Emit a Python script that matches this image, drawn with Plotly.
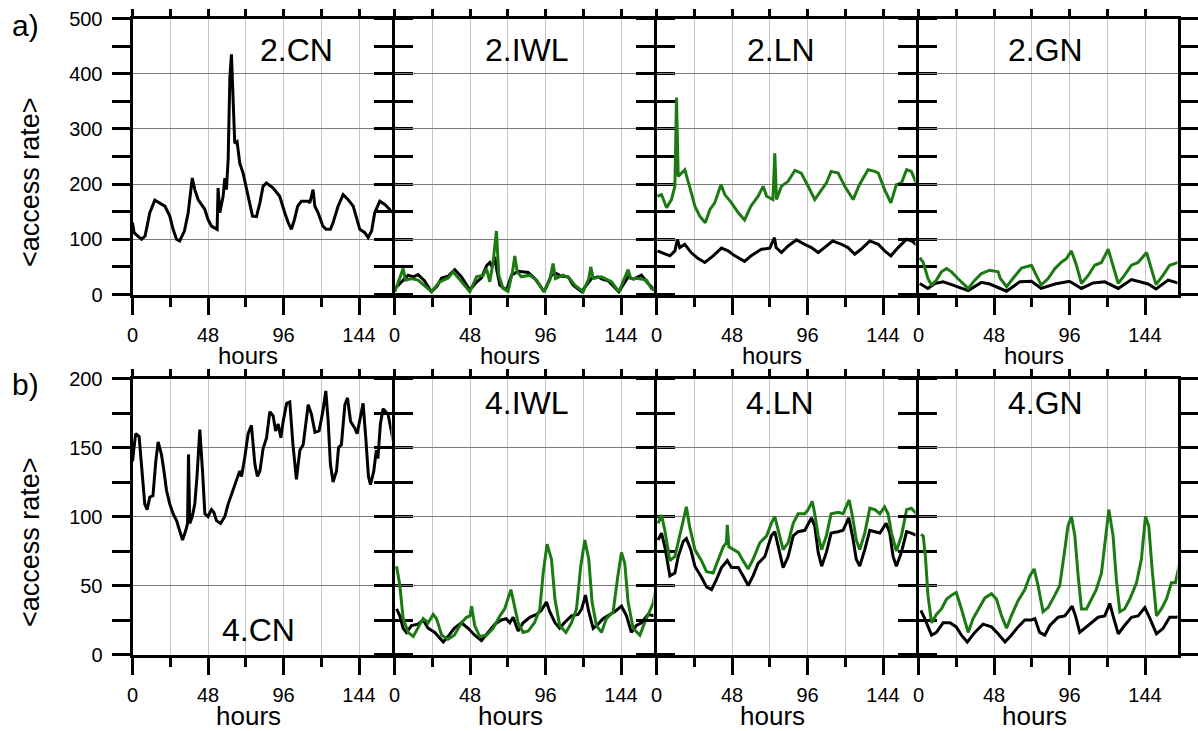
import plotly.graph_objects as go

# ---------------- data (hours, <access rate>) ----------------
# Row a) panel 2.CN
h_2CN_k = [0, 1, 2.5, 4, 5.7, 8, 11, 14.2, 17.4, 20.6, 23.7, 25.8, 28, 30, 33, 35.4, 38, 39.6, 41.7, 46, 48, 50.2,
           53.8, 54.4, 55.5, 57.6, 58.7, 59.7, 60.8, 61.9, 62.9, 64, 65, 66.5, 68.2, 70.3, 73.5, 76.3, 78.8, 81, 83,
           85.2, 89.4, 93.6, 96.8, 99, 101, 103, 105, 107.4, 111.7, 112.7, 114.8, 115.9, 118, 121, 123, 125.8, 127.5,
           130.7, 133.9, 137, 140.3, 142.4, 144.5, 147.7, 149.8, 152, 154, 157.2, 160.4, 163.6, 166.7]
v_2CN_k = [130, 112, 108, 104, 100, 106, 148, 171, 166, 160, 142, 118, 100, 97, 115, 148, 211, 190, 172, 154, 136, 124,
           118, 193, 148, 178, 211, 190, 244, 393, 435, 333, 274, 277, 238, 220, 178, 142, 141, 166, 196,
           202, 193, 178, 148, 130, 118, 136, 160, 169, 169, 166, 190, 160, 148, 124, 118, 118, 130,
           160, 181, 172, 160, 139, 118, 112, 103, 115, 148, 169, 163, 154, 145]

# Row a) panel 2.IWL
h_2IWL_k = [0, 4.4, 8.7, 12, 15, 19, 23.5, 27, 30, 34, 38.3, 42.6, 47.9, 52, 55.3, 58.5, 60.6, 62, 63.8, 65, 67, 71.2,
            74.4, 78.6, 85, 89.2, 95.1, 99.8, 103, 106.1, 110.4, 113.6, 118.9, 125.2, 129.4, 132, 135.8, 142.6, 148.5,
            152, 157, 161.2, 166.5]
v_2IWL_k = [10, 22, 35, 32, 36, 25, 5, 15, 30, 33, 45, 32, 8, 22, 30, 52, 58, 50, 68, 45, 17, 8,
            35, 42, 40, 29, 5, 35, 38, 33, 32, 17, 5, 29, 32, 28, 25, 5, 32,
            28, 35, 20, 5]
h_2IWL_g = [0.2, 3.4, 5.5, 7, 10.8, 15, 19.3, 23.5, 28.8, 34.1, 37.3, 41.5, 47.9, 52.1, 56.4, 58.5, 60.6, 62.7, 64.8,
            66.3, 69, 72.2, 75, 76.5, 78, 80.7, 86, 90.3, 95.1, 98.7, 100.8, 102.3, 107.2, 111.4, 114.6, 119.9, 123.5,
            124.8, 126.3, 131.6, 137.9, 142.6, 146.4, 148.5, 150.2, 154.9, 160.2, 163.3, 166.5]
v_2IWL_g = [5, 29, 47, 26, 29, 26, 16, 5, 23, 30, 41, 26, 5, 32, 35, 47, 23, 59, 115,
            35, 11, 6, 41, 70, 41, 32, 35, 26, 5, 26, 56, 29, 35, 29, 17, 5, 29,
            50, 29, 32, 23, 5, 29, 45, 29, 29, 26, 11, 4]

# Row a) panel 2.LN
h_2LN_k = [0.6, 3.2, 8.5, 11.7, 13.3, 14.8, 18, 22, 26.5, 30.7, 36, 41.3, 45.5, 49.8, 56, 60, 66.7, 72, 75, 76, 79.4,
           83.7, 89, 94, 98.5, 102.8, 107, 112, 117.6, 121.8, 126, 130, 135.6, 141, 145, 149, 153.6, 159, 162.3, 166]
v_2LN_k = [79, 76, 70, 79, 100, 85, 91, 76, 65, 58, 70, 84, 79, 70, 60, 70, 82, 84, 103, 85, 76,
           88, 99, 91, 85, 76, 85, 97, 91, 85, 73, 82, 97, 91, 79, 70, 85, 100, 97, 88]
h_2LN_g = [0.6, 3.2, 6.4, 9.5, 11.7, 12.7, 13.8, 15.9, 18, 21, 24.4, 27.5, 31, 34, 37, 41, 43.4, 47.7, 52, 56, 60,
           64.6, 67.8, 70, 74, 75.2, 76.3, 79.4, 83.7, 88, 92, 96.4, 100.6, 105, 108, 111, 115.5, 119.7, 125, 129,
           134.5, 138.8, 141, 145, 149, 152.5, 155.7, 159, 162, 166]
v_2LN_g = [178, 181, 157, 172, 196, 357, 214, 220, 226, 196, 160, 142, 130, 154, 166, 199, 181, 166, 148, 135, 160,
           178, 196, 178, 172, 256, 172, 196, 205, 225, 220, 196, 172, 190, 202, 223, 220, 196, 172, 199,
           226, 223, 220, 190, 166, 199, 202, 226, 223, 196]

# Row a) panel 2.GN
h_2GN_k = [0.8, 6, 10.4, 15.7, 21, 31.6, 40, 45.3, 56, 64.4, 71.8, 78, 86.7, 96, 103.6, 111, 118.4, 127, 135.4, 146,
           151, 158.7, 166]
v_2GN_k = [20, 11, 20, 23, 18, 7, 22, 19, 6, 23, 24, 11, 19, 24, 11, 21, 23, 11, 27, 19, 10, 26, 20]
h_2GN_g = [0.8, 3, 6, 8.3, 11.4, 14.6, 17.8, 21, 25, 31.6, 35.8, 40, 45.3, 50.6, 52, 56, 60, 65.5, 71.8, 74, 78, 82.4,
           86.7, 91, 94, 97.2, 100.4, 103.6, 108, 112, 116.3, 120.6, 123.7, 127, 131, 135.4, 139.6, 145, 148, 151,
           155.5, 159.7, 166]
v_2GN_g = [67, 58, 29, 17, 26, 41, 47, 41, 29, 11, 26, 38, 44, 41, 29, 14, 29, 48, 53, 41, 17, 29,
           47, 59, 65, 79, 53, 20, 35, 53, 58, 82, 53, 20, 35, 53, 58, 76, 47, 18,
           35, 53, 59]

# Row b) panel 4.CN
h_4CN_k = [0, 0.8, 2, 4.2, 5.7, 7.8, 9.3, 11, 13, 14.8, 16.3, 18.4, 20, 21.6, 23.7, 25.8, 28, 29.7, 31.8, 33.9, 35,
           35.6, 36.4, 38, 39.6, 41, 42.8, 44.5, 46, 48, 50.2, 51.7, 53.4, 56, 58.7, 60.8, 63.6, 66, 68.2, 69.3, 71.4,
           73.5, 75.6, 77.8, 79.4, 81, 83, 85.2, 87.3, 89.4, 91, 92.6, 94.3, 95.8, 98, 100, 102, 104.2, 106.4, 108.5,
           111.7, 113.8, 116, 118.6, 121, 122.9, 124.4, 125.8, 127.5, 129.7, 131, 132.8, 135, 136.7, 138.6, 141.3,
           142.8, 144.5, 146.6, 148.3, 150, 151.3, 153.4, 155, 156, 157.6, 159.3, 162.5, 165.7]
v_4CN_k = [140, 148, 160, 158, 138, 109, 105, 114, 115, 140, 154, 145, 133, 119, 109, 102, 97, 90, 83, 90, 95,
           145, 95, 100, 109, 129, 163, 133, 102, 100, 105, 103, 97, 95, 100, 109, 119, 126, 133, 129, 143,
           160, 166, 138, 129, 133, 149, 157, 176, 173, 162, 167, 157, 169, 182, 183, 152, 127, 148, 152,
           181, 174, 161, 162, 176, 191, 169, 138, 125, 133, 150, 152, 181, 186, 169, 164,
           160, 169, 182, 157, 129, 123, 133, 148, 142, 167, 178, 174, 155]

# Row b) panel 4.IWL
h_4IWL_k = [1.3, 3.4, 5.5, 7.6, 10.8, 15, 18.2, 21.4, 25.6, 31, 34, 38, 42.6, 46.8, 51, 55.3, 59.5, 63.8, 68, 71, 73.3,
            75.4, 78.6, 81.8, 86, 90.3, 93.4, 96.6, 98.7, 102, 105, 108, 112.5, 116.7, 119, 121.4, 123.5, 126.3,
            129.4, 132.6, 136.9, 140, 144.3, 147.5, 150.6, 153.8, 157, 161.2, 165.5]
v_4IWL_k = [33, 28, 19, 16, 21, 22, 25, 19, 16, 9, 13, 19, 23, 19, 14, 10, 16, 22, 25, 26, 23,
            27, 17, 23, 27, 29, 32, 38, 31, 23, 19, 23, 28, 29, 33, 43, 31, 19,
            22, 26, 29, 31, 35, 28, 16, 21, 23, 29, 28]
h_4IWL_g = [1.3, 3.4, 5.5, 8.7, 11.9, 15, 18.2, 21.4, 24.6, 26.7, 30, 34, 38, 42.6, 45.8, 48, 49, 51, 54.2, 58.5, 62.7,
            67, 70, 74, 76.5, 78.6, 81.8, 85, 89, 92.4, 94.5, 97, 99.8, 102, 105, 109, 112.5, 115.7, 118.4, 121,
            123.5, 125.6, 128.4, 131.6, 134.7, 139, 142, 144.3, 146.4, 148.5, 151.7, 156, 159, 162, 164.4, 166.5]
v_4IWL_g = [64, 50, 26, 16, 13, 19, 26, 23, 29, 26, 14, 11, 14, 23, 27, 28, 35, 21, 13, 14, 19,
            28, 33, 47, 35, 23, 16, 17, 23, 33, 59, 80, 69, 40, 21, 16, 23, 33, 64, 83,
            69, 38, 21, 16, 26, 31, 57, 74, 66, 38, 19, 14, 23, 31, 37, 50]

# Row b) panel 4.LN
h_4LN_k = [1, 3.2, 5.3, 8.5, 11.7, 13.8, 17, 19, 21.8, 24.4, 28.6, 31.8, 35, 38, 41.3, 45, 47.7, 52, 55, 58.3, 61.4,
           64.6, 68.9, 73, 75.2, 77.3, 80.5, 83.7, 86.9, 90, 94.3, 98.5, 100.6, 102.8, 105, 108, 111, 115.5, 118.6,
           122.2, 124.6, 127, 129.2, 132.4, 135.6, 138.8, 142, 146, 148.3, 150.4, 152.5, 155.7, 159, 162, 166]
v_4LN_k = [83, 88, 78, 57, 59, 71, 82, 84, 76, 64, 56, 49, 47, 54, 63, 68, 63, 63, 57, 50, 57,
           66, 71, 86, 89, 78, 63, 71, 86, 89, 90, 99, 93, 74, 64, 74, 88, 89, 90,
           99, 86, 69, 64, 76, 90, 89, 88, 95, 88, 71, 64, 74, 89, 88, 86]
h_4LN_g = [1, 3.2, 5.3, 8.5, 11.7, 14.8, 16.9, 19, 21, 24.4, 28.6, 31.8, 36, 39.2, 42.4, 44.5, 45, 46, 48.7, 52, 55,
           58.3, 61.4, 65.7, 70, 73, 75.2, 77.3, 80.5, 83.7, 86.9, 90, 94.3, 96.4, 99, 100.6, 102.8, 105, 108, 111,
           115.5, 118.6, 120.8, 122.5, 124.6, 127, 129.2, 132.4, 135.6, 138.8, 142, 145, 147.2, 149.4, 152.5, 155.7,
           159, 162, 166]
v_4LN_g = [95, 101, 90, 68, 71, 86, 97, 107, 93, 76, 68, 60, 59, 69, 78, 81, 94, 78, 76, 74, 68,
           62, 69, 81, 86, 95, 100, 90, 76, 81, 95, 102, 102, 105, 111, 102, 86, 76, 86, 102,
           103, 102, 107, 112, 100, 83, 76, 88, 106, 105, 102, 107, 102, 88, 75, 86,
           105, 106, 101]

# Row b) panel 4.GN
h_4GN_k = [1.5, 4, 8.3, 11.4, 15.7, 20, 24, 27.3, 31, 35.8, 41, 46.4, 50.6, 55, 59, 63.3, 67.6, 71.8, 74, 77, 80.3,
           83.5, 88.8, 93, 97.7, 99.8, 102.5, 105.7, 110, 114.2, 118.4, 121.6, 123.7, 127, 131, 135.4, 139.6, 143.9,
           146.4, 151.3, 155.5, 159.7, 164, 166.7]
v_4GN_k = [32, 26, 14, 16, 23, 23, 20, 14, 9, 16, 22, 20, 15, 9, 14, 20, 25, 25, 26, 16, 14,
           21, 27, 28, 35, 28, 16, 19, 23, 27, 28, 37, 28, 15, 21, 27, 28, 34,
           28, 15, 19, 27, 27, 28]
h_4GN_g = [1.5, 3, 4.4, 6, 8.3, 11.4, 14.6, 17.8, 21, 24, 27.3, 31.6, 34.7, 39, 42.2, 46.4, 49.6, 52.8, 56, 59, 63.3,
           67.6, 70.8, 73.5, 76, 79.2, 82.4, 86.7, 89.8, 93, 95, 97.2, 99.4, 101.5, 103.6, 106.8, 110, 113, 116.3,
           118.4, 121, 123.7, 125.8, 128, 131, 134.3, 138.6, 141.7, 144.3, 146.4, 148.5, 151.3, 154.4, 157.6, 160.8,
           163.3, 166.7]
v_4GN_g = [87, 86, 71, 43, 23, 29, 33, 40, 43, 45, 33, 16, 26, 35, 41, 44, 40, 28, 19, 28, 39,
           47, 57, 62, 50, 31, 34, 43, 50, 76, 93, 100, 86, 57, 33, 33, 40, 47, 59,
           78, 105, 86, 54, 31, 33, 40, 52, 69, 100, 93, 62, 28, 33, 40, 52,
           52, 70]

panel_titles = ["2.CN", "2.IWL", "2.LN", "2.GN", "4.CN", "4.IWL", "4.LN", "4.GN"]
panel_series = [
    [(h_2CN_k, v_2CN_k, "k")],
    [(h_2IWL_k, v_2IWL_k, "k"), (h_2IWL_g, v_2IWL_g, "g")],
    [(h_2LN_k, v_2LN_k, "k"), (h_2LN_g, v_2LN_g, "g")],
    [(h_2GN_k, v_2GN_k, "k"), (h_2GN_g, v_2GN_g, "g")],
    [(h_4CN_k, v_4CN_k, "k")],
    [(h_4IWL_k, v_4IWL_k, "k"), (h_4IWL_g, v_4IWL_g, "g")],
    [(h_4LN_k, v_4LN_k, "k"), (h_4LN_g, v_4LN_g, "g")],
    [(h_4GN_k, v_4GN_k, "k"), (h_4GN_g, v_4GN_g, "g")],
]
x_major = [0, 48, 96, 144]
x_minor = [24, 72, 120]
x_top = [0, 24, 48, 72, 96, 120, 144, 168]
row_ymax = [500, 200]
row_ymajor = [[0, 100, 200, 300, 400, 500], [0, 50, 100, 150, 200]]
row_yminor = [[50, 150, 250, 350, 450], [25, 75, 125, 175]]
row_tags = ["a)", "b)"]

# ---------------- layout geometry (pixels) ----------------
W, H = 1198, 731
col_px = [131, 393, 655, 917, 1179]
row_px = [(17, 296), (377, 656)]
INSET = 1.5
XMAX = (262 - 2 * INSET) / 1.573
FONT = "Liberation Sans, Arial, sans-serif"
COL = {"k": "#000000", "g": "#1c7a12"}


def px_x(p):
    return p / W


def px_y(p):
    return 1 - p / H


fig = go.Figure()
layout = dict(width=W, height=H, margin=dict(l=0, r=0, t=0, b=0, pad=0, autoexpand=False), showlegend=False,
              plot_bgcolor="white", paper_bgcolor="white", font=dict(family=FONT, color="black"))
annotations = []

for r in range(2):
    for c in range(4):
        i = r * 4 + c + 1
        xs = "" if i == 1 else str(i)
        for hx, vy, col in panel_series[i - 1]:
            fig.add_trace(go.Scatter(x=hx, y=vy, mode="lines", xaxis="x" + xs, yaxis="y" + xs,
                                     line=dict(color=COL[col], width=3), hoverinfo="skip"))
        fig.add_trace(go.Scatter(x=[], y=[], xaxis="x" + str(i + 8), yaxis="y" + xs, hoverinfo="skip"))
        dom_x = [px_x(col_px[c] + INSET), px_x(col_px[c + 1] - INSET)]
        top, bot = row_px[r]
        dom_y = [px_y(bot - INSET), px_y(top + INSET)]
        layout["xaxis" + xs] = dict(
            domain=dom_x, anchor="y" + xs, range=[0, XMAX], tickmode="array", tickvals=x_major,
            ticks="outside", ticklen=17, tickwidth=3, tickcolor="black", ticklabelstandoff=3,
            showline=True, linecolor="black", linewidth=3, mirror=False, zeroline=False,
            showgrid=True, gridcolor="#c4c4c4", gridwidth=1,
            tickfont=dict(family=FONT, size=20, color="black"),
            minor=dict(tickmode="array", tickvals=x_minor, ticks="outside", ticklen=9, tickwidth=3,
                       tickcolor="black", showgrid=True, gridcolor="#c4c4c4", gridwidth=1),
            fixedrange=True)
        layout["xaxis" + str(i + 8)] = dict(
            overlaying="x" + xs, anchor="y" + xs, side="top", range=[0, XMAX], tickmode="array",
            tickvals=x_top, ticks="outside", ticklen=7, tickwidth=3, tickcolor="black",
            showticklabels=False, showline=True, linecolor="black", linewidth=3, showgrid=False,
            zeroline=False, fixedrange=True)
        layout["yaxis" + xs] = dict(
            domain=dom_y, anchor="x" + xs, range=[0, row_ymax[r]], tickmode="array",
            tickvals=row_ymajor[r], showticklabels=(c == 0), ticks="outside", ticklen=18, tickwidth=3,
            tickcolor="black", ticklabelstandoff=5,
            showline=True, linecolor="black", linewidth=3, mirror="allticks", zeroline=False,
            showgrid=True, gridcolor="#7a7a7a", gridwidth=1,
            tickfont=dict(family=FONT, size=20, color="black"),
            minor=dict(tickmode="array", tickvals=row_yminor[r], ticks="outside", ticklen=9, tickwidth=3,
                       tickcolor="black", showgrid=False),
            fixedrange=True)
        hy = 355 if r == 0 else 716
        hs = 24 if r == 0 else 26
        annotations.append(dict(text="hours", x=px_x((col_px[c] + col_px[c + 1]) / 2 - 14), y=px_y(hy),
                                xref="paper", yref="paper", showarrow=False, xanchor="center", yanchor="middle",
                                font=dict(family=FONT, size=hs, color="black")))

title_pos = [(296, 50), (527, 50), (781, 50), (1045, 50), (258, 630), (527, 403), (780, 403), (1045, 403)]
for t, (tx, ty) in zip(panel_titles, title_pos):
    annotations.append(dict(text=t, x=px_x(tx), y=px_y(ty), xref="paper", yref="paper", showarrow=False,
                            xanchor="center", yanchor="middle", font=dict(family=FONT, size=32, color="black")))

for r, (tag, ycen, tagy) in enumerate(zip(row_tags, [182, 542], [26, 384])):
    annotations.append(dict(text="&lt;access rate&gt;", x=px_x(30), y=px_y(ycen), xref="paper", yref="paper",
                            showarrow=False, textangle=-90, xanchor="center", yanchor="middle",
                            font=dict(family=FONT, size=27, color="black")))
    annotations.append(dict(text=tag, x=px_x(25), y=px_y(tagy), xref="paper", yref="paper", showarrow=False,
                            xanchor="center", yanchor="middle", font=dict(family=FONT, size=30, color="black")))

layout["annotations"] = annotations
fig.update_layout(**layout)
fig.write_html("out.html", config={"displayModeBar": False},
               post_script="document.body.style.margin='0px';document.body.style.overflow='hidden';")
